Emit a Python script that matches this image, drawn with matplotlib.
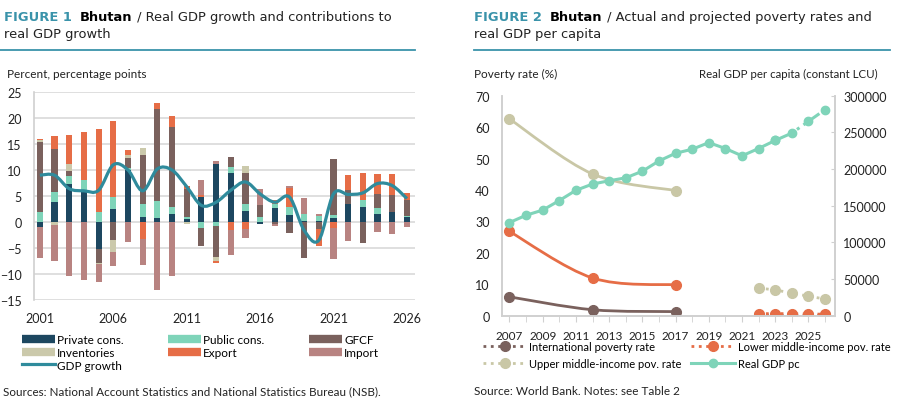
import numpy as np
import matplotlib
matplotlib.use("Agg")
import matplotlib.pyplot as plt
from matplotlib.path import Path
from matplotlib.patches import PathPatch
from matplotlib.lines import Line2D

plt.rcParams['font.family'] = ['Lato', 'DejaVu Sans']

# ---- Figure 1 data: contributions to real GDP growth (pp) ----
years = list(range(2001, 2027))
private = [-1.0, 3.8, 7.3, 6.0, -5.1, 2.5, 10.0, 1.0, 0.8, 1.5, 0.6, 4.9, 11.2,
           9.4, 2.1, -0.4, 2.6, 1.4, 0.1, 0.2, 0.8, 3.5, 2.9, 1.5, 1.9, 1.0]
public = [2.0, 1.9, 1.6, 2.0, 2.0, 2.3, 0.3, 2.5, 3.2, 1.4, 0.3, -1.2, -0.8,
          1.2, 1.3, 1.0, 0.9, 1.5, 1.5, 1.0, 0.5, 0.0, 1.3, 1.2, 0.0, 0.2]
gfcf = [13.4, 8.4, 1.0, 0.0, -2.7, -3.4, 2.1, 9.4, 17.8, 15.3, 5.5, -3.4, -5.9,
        1.9, 6.0, 2.2, -0.3, -2.2, -6.9, -1.4, 10.8, 2.7, -4.0, 2.6, 3.2, 3.1]
inventories = [0.3, -0.5, 1.2, 0.0, -0.3, -2.3, 0.4, 1.3, 0.0, 0.0, -0.3, 0.0, -0.8,
               0.0, 1.3, 0.0, 0.0, 0.0, 0.0, 0.0, 0.0, 0.0, 0.0, 0.0, 0.0, 0.0]
export = [0.3, 2.4, 5.7, 9.3, 15.9, 14.6, 1.1, -3.2, 1.1, 2.2, 0.5, 0.2, -0.4,
          -1.5, -1.3, 0.0, 0.7, 3.7, 0.0, -3.3, -1.1, 2.8, 5.2, 3.9, 4.2, 1.3]
imports = [-6.0, -7.0, -10.3, -11.2, -3.5, -2.7, -3.9, -5.0, -13.0, -10.3, 0.0, 3.0, 0.5,
           -4.9, -1.7, 3.2, -0.4, 0.4, 3.1, 0.4, -6.0, -3.7, 0.0, -1.9, -2.4, -1.0]
gdp_growth = [9.0, 9.0, 6.4, 6.0, 6.1, 11.0, 10.0, 6.0, 10.2, 10.0, 6.8, 3.2, 3.8,
              6.1, 7.7, 5.4, 3.8, 4.8, -1.6, -3.5, 5.4, 5.3, 5.6, 7.4, 7.0, 4.5]

# ---- Figure 2 data: poverty rates (%) and real GDP pc ----
pov_years = [2007, 2012, 2017]
intl_pov = [6.0, 1.9, 1.3]
lmic_pov = [26.8, 12.0, 9.8]
umic_pov = [62.6, 45.1, 39.8]
proj_years = [2022, 2023, 2024, 2025, 2026]
intl_proj = [0.2, 0.2, 0.1, 0.1, 0.1]
lmic_proj = [0.6, 0.7, 0.6, 0.5, 0.5]
umic_proj = [8.8, 8.2, 7.2, 6.2, 5.3]
gdppc_years = list(range(2007, 2027))
gdppc = [127000, 137000, 144000, 157000, 171000, 179500, 184000, 188000, 197000,
         211000, 221500, 227000, 236000, 228000, 218000, 228000, 239000, 249000,
         265000, 281000]
gdppc_last_actual = 2023

c_priv, c_pub, c_gfcf = '#1d4760', '#7fd4b9', '#7a615d'
c_inv, c_exp, c_imp = '#cbc9ab', '#e66d46', '#b88381'
c_gdp = '#2f8b9c'
c_teal_title = '#3a93aa'
c_umic = '#c9c7a6'
txt_col = '#222222'
fs = 8.5


def smooth_path(x, y):
    verts = [(x[0], y[0])]
    codes = [Path.MOVETO]
    n = len(x)
    for i in range(n - 1):
        a = max(i - 1, 0)
        b = min(i + 2, n - 1)
        c1 = (x[i] + (x[i + 1] - x[a]) / 6, y[i] + (y[i + 1] - y[a]) / 6)
        c2 = (x[i + 1] - (x[b] - x[i]) / 6, y[i + 1] - (y[b] - y[i]) / 6)
        verts += [c1, c2, (x[i + 1], y[i + 1])]
        codes += [Path.CURVE4] * 3
    return Path(verts, codes)


fig = plt.figure(figsize=(9, 4.1), dpi=100)

# ================= Left chart =================
ax1 = fig.add_axes([34 / 900, 1 - 301 / 410, 381 / 900, 208 / 410])
series = [(private, c_priv), (public, c_pub), (gfcf, c_gfcf),
          (inventories, c_inv), (export, c_exp), (imports, c_imp)]
pos_base = np.zeros(len(years))
neg_base = np.zeros(len(years))
x = np.array(years)
for vals, col in series:
    v = np.array(vals)
    p = np.where(v > 0, v, 0)
    n = np.where(v < 0, v, 0)
    ax1.bar(x, p, bottom=pos_base, width=0.42, color=col, zorder=2)
    ax1.bar(x, n, bottom=neg_base, width=0.42, color=col, zorder=2)
    pos_base += p
    neg_base += n
ax1.add_patch(PathPatch(smooth_path(years, gdp_growth), fill=False,
                        edgecolor=c_gdp, lw=2.3, zorder=3))
ax1.set_xlim(2000.6, 2026.55)
ax1.set_ylim(-15, 25)
ax1.set_yticks(range(-15, 26, 5))
ax1.set_xticks(range(2001, 2027, 5))
ax1.grid(axis='y', color='#d9d9d9', lw=1.2, zorder=0)
for s in ['top', 'right', 'bottom']:
    ax1.spines[s].set_visible(False)
ax1.spines['left'].set_color('#d0d0d0')
ax1.spines['left'].set_linewidth(1.2)
ax1.tick_params(axis='both', length=0, labelsize=9, colors=txt_col)
ax1.tick_params(axis='y', pad=9)
ax1.tick_params(axis='x', pad=9)

h = [Line2D([], [], color=c_priv, lw=6, solid_capstyle='butt'),
     Line2D([], [], color=c_inv, lw=6, solid_capstyle='butt'),
     Line2D([], [], color=c_gdp, lw=2.3),
     Line2D([], [], color=c_pub, lw=6, solid_capstyle='butt'),
     Line2D([], [], color=c_exp, lw=6, solid_capstyle='butt'),
     Line2D([], [], color=c_gfcf, lw=6, solid_capstyle='butt'),
     Line2D([], [], color=c_imp, lw=6, solid_capstyle='butt')]
labels = ['Private cons.', 'Inventories', 'GDP growth', 'Public cons.', 'Export',
          'GFCF', 'Import']
fig.legend(h, labels, ncol=3, loc='upper left', bbox_to_anchor=(22 / 900, 1 - 335 / 410),
           frameon=False, fontsize=8.5, handlelength=2.8, handletextpad=0.15,
           columnspacing=3.8, labelspacing=0.15, borderaxespad=0, borderpad=0)

# ================= Right chart =================
ax2 = fig.add_axes([502 / 900, 1 - 316.7 / 410, 333 / 900, 220 / 410])
ax3 = ax2.twinx()
ax2.add_patch(PathPatch(smooth_path(pov_years, umic_pov), fill=False,
                        edgecolor=c_umic, lw=2, zorder=2))
ax2.plot(pov_years, umic_pov, 'o', color=c_umic, ms=7, zorder=2)
ax2.add_patch(PathPatch(smooth_path(pov_years, lmic_pov), fill=False,
                        edgecolor=c_exp, lw=2, zorder=2))
ax2.plot(pov_years, lmic_pov, 'o', color=c_exp, ms=7, zorder=2)
ax2.add_patch(PathPatch(smooth_path(pov_years, intl_pov), fill=False,
                        edgecolor=c_gfcf, lw=2, zorder=2))
ax2.plot(pov_years, intl_pov, 'o', color=c_gfcf, ms=7, zorder=2)
ax2.plot(proj_years, umic_proj, ':', marker='o', color=c_umic, ms=7, lw=2)
ax2.plot(proj_years, intl_proj, ':', marker='o', color=c_gfcf, ms=7, lw=2)
ax2.plot(proj_years, lmic_proj, ':', marker='o', color=c_exp, ms=7, lw=2)

k = gdppc_years.index(gdppc_last_actual) + 1
ax3.plot(gdppc_years[:k], gdppc[:k], '-', marker='o', color=c_pub, ms=6, lw=2.2)
ax3.plot(gdppc_years[k - 1:], gdppc[k - 1:], '-.', marker='o', color=c_pub, ms=6, lw=2.2)

ax2.set_xlim(2006.55, 2026.6)
ax2.set_ylim(0, 70)
ax3.set_ylim(0, 300000)
ax2.set_yticks(range(0, 71, 10))
ax3.set_yticks(range(0, 300001, 50000))
ax2.set_xticks(range(2007, 2026, 2))
ax2.set_xticks(range(2007, 2027), minor=True)
for a in (ax2, ax3):
    a.spines['top'].set_visible(False)
    for s in ['left', 'right', 'bottom']:
        a.spines[s].set_color('#d0d0d0')
        a.spines[s].set_linewidth(1.2)
ax2.tick_params(axis='y', length=0, labelsize=9, colors=txt_col, pad=9)
ax3.tick_params(axis='y', length=3, color='#d0d0d0', labelsize=9,
                labelcolor=txt_col, pad=6, direction='in')
ax2.tick_params(axis='x', which='both', length=4, color='#d0d0d0', labelsize=fs,
                labelcolor=txt_col, direction='out', pad=6)

h2 = [Line2D([], [], color=c_gfcf, ls=':', lw=2, marker='o', ms=7),
      Line2D([], [], color=c_umic, ls=':', lw=2, marker='o', ms=7),
      Line2D([], [], color=c_exp, ls=':', lw=2, marker='o', ms=7),
      Line2D([], [], color=c_pub, ls='-', lw=2.2, marker='o', ms=6)]
l2 = ['International poverty rate', 'Upper middle-income pov. rate',
      'Lower middle-income pov. rate', 'Real GDP pc']
fig.legend(h2, l2, ncol=2, loc='upper left', bbox_to_anchor=(483 / 900, 1 - 342 / 410),
           frameon=False, fontsize=8, handlelength=3.9, handletextpad=0.25,
           columnspacing=0.9, labelspacing=0.55, borderaxespad=0, borderpad=0,
           numpoints=1)

# ================= Titles and texts =================
renderer = fig.canvas.get_renderer()


def title_line(x0, y0, parts, size=9.4):
    xx = x0
    for txt, col, wt in parts:
        t = fig.text(xx / 900, 1 - y0 / 410, txt, color=col, fontweight=wt,
                     fontsize=size, family=['DejaVu Sans'], va='baseline', ha='left')
        xx += t.get_window_extent(renderer).width
    return xx


title_line(4, 21, [('FIGURE 1', c_teal_title, 'bold'), ('  ', 'black', 'normal'),
                   ('Bhutan', 'black', 'bold'),
                   (' / Real GDP growth and contributions to', txt_col, 'normal')])
title_line(4, 38, [('real GDP growth', txt_col, 'normal')])
title_line(474, 21, [('FIGURE 2', c_teal_title, 'bold'), ('  ', 'black', 'normal'),
                     ('Bhutan', 'black', 'bold'),
                     (' / Actual and projected poverty rates and', txt_col, 'normal')])
title_line(474, 38, [('real GDP per capita', txt_col, 'normal')])

fig.add_artist(Line2D([0, 415 / 900], [1 - 51 / 410] * 2, color=c_teal_title, lw=1.3))
fig.add_artist(Line2D([474 / 900, 890 / 900], [1 - 51 / 410] * 2, color=c_teal_title, lw=1.3))

fig.text(7 / 900, 1 - 75 / 410, 'Percent, percentage points', fontsize=fs,
         color=txt_col, va='center')
fig.text(474 / 900, 1 - 74 / 410, 'Poverty rate (%)', fontsize=fs, color=txt_col,
         va='center')
fig.text(878 / 900, 1 - 74 / 410, 'Real GDP per capita (constant LCU)', fontsize=8.3,
         color=txt_col, va='center', ha='right')
fig.text(3 / 900, 1 - 392 / 410,
         'Sources: National Account Statistics and National Statistics Bureau (NSB).',
         fontsize=8.4, color=txt_col, va='center')
fig.text(474 / 900, 1 - 392 / 410, 'Source: World Bank. Notes: see Table 2',
         fontsize=fs, color=txt_col, va='center')

fig.savefig('out.png', dpi=100)
